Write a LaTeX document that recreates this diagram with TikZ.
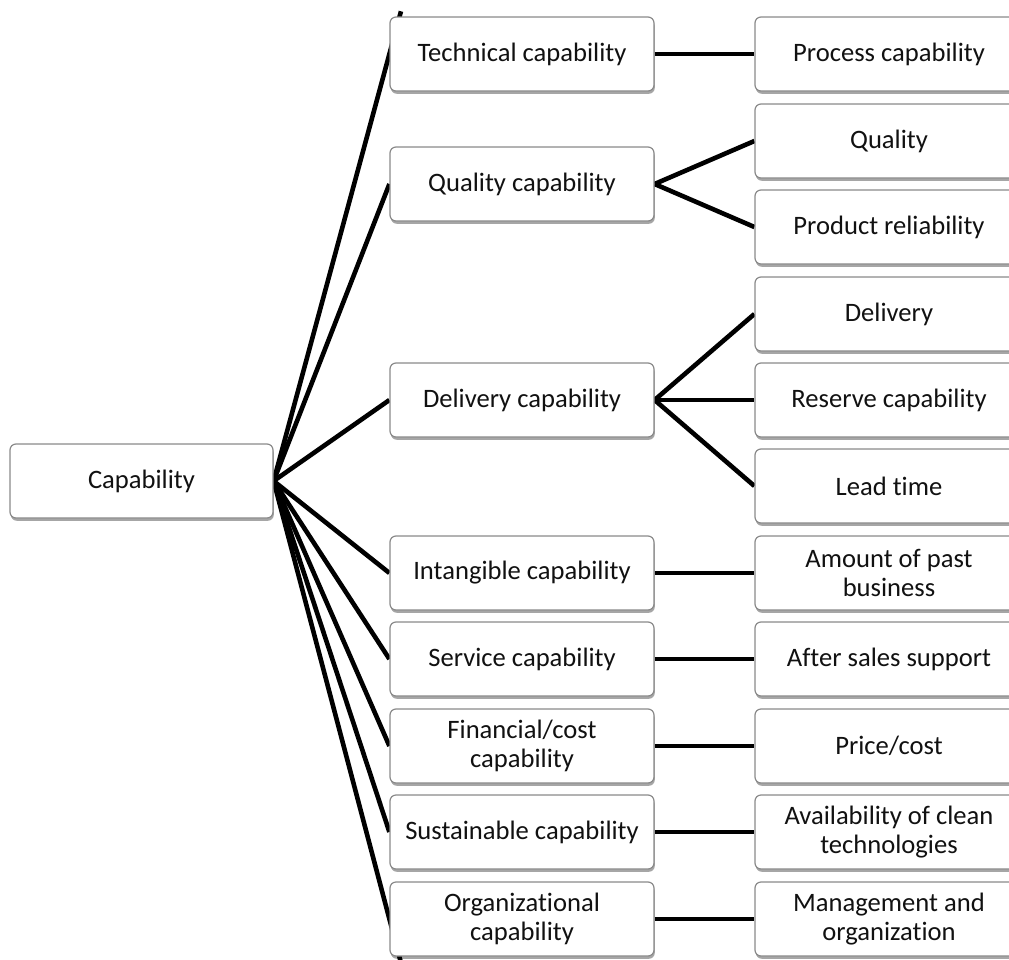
\documentclass[tikz,border=0pt]{standalone}
\usepackage{fontspec}
\setmainfont{Carlito}[Ligatures={NoCommon}]
\usetikzlibrary{calc,shadows,backgrounds}
\definecolor{ink}{HTML}{111111}
\definecolor{edge}{HTML}{8A8A8A}
\tikzset{
  box/.style={rounded corners=3pt, draw=edge, line width=0.6pt, fill=white, align=center,
    inner sep=2pt, minimum height=37pt, text=ink, font=\fontsize{13.3}{14.5}\selectfont,
    drop shadow={shadow xshift=0.4pt, shadow yshift=-1.4pt, opacity=0.35, fill=black}},
  midbox/.style={box, minimum width=132pt},
  leafbox/.style={box, minimum width=134pt},
  link/.style={line width=2.3pt, draw=black},
}

\begin{document}
\begin{tikzpicture}[x=0.5pt,y=-0.5pt]
  \useasboundingbox (0,0) rectangle (1009,960);
  % root
  \node[box, minimum width=131.5pt] (root) at (141.5,481) {Capability};
  % middle column
  \node[midbox] (tech) at (522,54) {Technical capability};
  \node[midbox] (qual) at (522,184) {Quality capability};
  \node[midbox] (deliv) at (522,400) {Delivery capability};
  \node[midbox] (intan) at (522,573) {Intangible capability};
  \node[midbox] (serv) at (522,659) {Service capability};
  \node[midbox] (fin) at (522,746) {Financial/cost\\capability};
  \node[midbox] (sust) at (522,832) {Sustainable capability};
  \node[midbox] (org) at (522,919) {Organizational\\capability};
  % right column
  \node[leafbox] (proc) at (889,54) {Process capability};
  \node[leafbox] (quality) at (889,141) {Quality};
  \node[leafbox] (relia) at (889,227) {Product reliability};
  \node[leafbox] (delivery) at (889,314) {Delivery};
  \node[leafbox] (reserve) at (889,400) {Reserve capability};
  \node[leafbox] (lead) at (889,486) {Lead time};
  \node[leafbox] (amount) at (889,573) {Amount of past\\business};
  \node[leafbox] (after) at (889,659) {After sales support};
  \node[leafbox] (price) at (889,746) {Price/cost};
  \node[leafbox] (avail) at (889,832) {Availability of clean\\technologies};
  \node[leafbox] (mgmt) at (889,919) {Management and\\organization};
  \begin{scope}[on background layer]
    \coordinate (topend) at ($(root.east)!1.1!(tech.west)$);
    \coordinate (botend) at ($(root.east)!1.095!(org.west)$);
    \draw[link] (root.east) -- (topend);
    \draw[link] (root.east) -- (botend);
    \foreach \m in {qual,deliv,intan,serv,fin,sust}
      \draw[link] (root.east) -- (\m.west);
    \draw[link] (tech.east) -- (proc.west);
    \foreach \r in {quality,relia} \draw[link] (qual.east) -- (\r.west);
    \foreach \r in {delivery,reserve,lead} \draw[link] (deliv.east) -- (\r.west);
    \draw[link] (intan.east) -- (amount.west);
    \draw[link] (serv.east) -- (after.west);
    \draw[link] (fin.east) -- (price.west);
    \draw[link] (sust.east) -- (avail.west);
    \draw[link] (org.east) -- (mgmt.west);
  \end{scope}
\end{tikzpicture}
\end{document}
